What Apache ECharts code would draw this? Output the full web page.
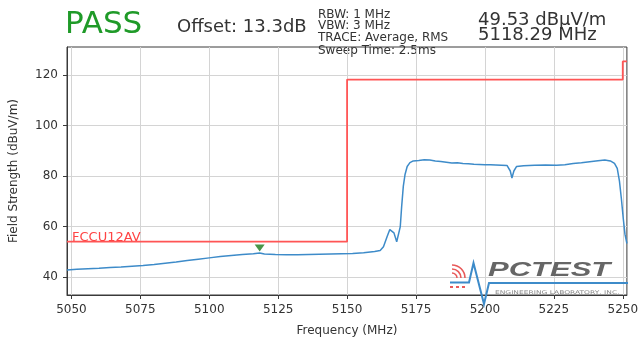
<!DOCTYPE html>
<html>
<head>
<meta charset="utf-8">
<script src="https://cdn.jsdelivr.net/npm/echarts@6/dist/echarts.min.js"></script>
<style>html,body{margin:0;padding:0;background:#fff;}#c{width:641px;height:342px;}</style>
</head>
<body>
<div id="c"></div>
<script>
// ---- data ----
const xTicks = [5050, 5075, 5100, 5125, 5150, 5175, 5200, 5225, 5250];
const yTicks = [40, 60, 80, 100, 120];
const traceFreq = [5048.4,5052,5056,5060,5064,5068,5072,5076,5080,5084,5088,5092,5096,5100,5104,5108,5112,5116,5118.29,5120,5124,5128,5132,5136,5140,5144,5148,5152,5156,5160,5162,5163.2,5164.5,5165.5,5166.2,5167,5168,5168.6,5169.3,5169.8,5170.4,5171,5171.8,5172.8,5174,5176,5178,5180,5182,5184,5186,5188,5190,5192,5194,5196,5198,5200,5202,5204,5206,5208,5209.2,5209.8,5210.5,5211.5,5214,5218,5222,5226,5229,5232,5235,5238,5241,5243.5,5245.5,5247,5248,5248.8,5249.5,5250.2,5250.8,5251.5];
const traceLevel = [42.8,43.1,43.3,43.5,43.8,44.0,44.3,44.6,45.0,45.5,46.0,46.6,47.1,47.6,48.1,48.5,48.9,49.2,49.53,49.1,48.9,48.8,48.8,48.9,49.0,49.1,49.2,49.3,49.6,50.1,50.5,52.0,56.0,58.8,59.3,57.5,54.0,53.3,60.0,68.0,76.0,80.5,83.8,85.3,86.0,86.2,86.5,86.4,86.0,85.8,85.5,85.2,85.3,85.0,84.9,84.7,84.6,84.5,84.5,84.4,84.3,84.2,82.0,79.2,82.0,83.8,84.1,84.3,84.4,84.3,84.5,85.0,85.3,85.7,86.1,86.4,86.0,85.0,83.0,78.0,71.0,63.0,57.0,53.3];
const limitFreq = [5048.4, 5150, 5150, 5250, 5250, 5251.5];
const limitLevel = [54, 54, 118.2, 118.2, 125.4, 125.4];
const markerFreq = [5118.29];
const markerLevel = [49.53];
const limitName = 'FCCU12AV';

const chart = echarts.init(document.getElementById('c'), null, {renderer: 'canvas'});
const axisCol = '#3a3a3a';
const txtCol = '#333';
const font = 'DejaVu Sans';
const option = {
  animation: false,
  backgroundColor: '#fff',
  grid: {left: 63, top: 47, width: 567, height: 254, show: true, borderColor: axisCol, borderWidth: 1, containLabel: false},
  xAxis: {
    type: 'value', min: 5048.4, max: 5251.5,
    name: 'Frequency (MHz)', nameLocation: 'middle', nameGap: 30,
    nameTextStyle: {color: txtCol, fontSize: 12, fontFamily: font},
    axisLine: {show: true, lineStyle: {color: axisCol}},
    axisTick: {show: true, length: 4, lineStyle: {color: axisCol}, customValues: xTicks},
    axisLabel: {color: txtCol, fontSize: 12, fontFamily: font, margin: 9, customValues: xTicks, formatter: v => String(v)},
    splitLine: {show: true, lineStyle: {color: '#d4d4d4', width: 1}}
  },
  yAxis: {
    type: 'value', min: 32.9, max: 131.1,
    name: 'Field Strength (dBuV/m)', nameLocation: 'middle', nameGap: 47,
    nameTextStyle: {color: txtCol, fontSize: 12, fontFamily: font},
    axisLine: {show: true, lineStyle: {color: axisCol}},
    axisTick: {show: true, length: 4, lineStyle: {color: axisCol}, customValues: yTicks},
    axisLabel: {color: txtCol, fontSize: 12, fontFamily: font, margin: 9, customValues: yTicks, formatter: v => String(v)},
    splitLine: {show: true, lineStyle: {color: '#d4d4d4', width: 1}}
  },
  series: [
    {type: 'line', name: 'limit', data: limitFreq.map((f, i) => [f, limitLevel[i]]), showSymbol: false,
     lineStyle: {color: '#ff5555', width: 1.8}, z: 3},
    {type: 'line', name: 'trace', data: traceFreq.map((f, i) => [f, traceLevel[i]]), showSymbol: false,
     lineStyle: {color: '#3d8bc9', width: 1.5}, z: 4},
    {type: 'scatter', name: 'marker', data: markerFreq.map((f, i) => [f, markerLevel[i]]),
     symbol: 'triangle', symbolRotate: 180, symbolSize: [10, 7], symbolOffset: [0, -5],
     itemStyle: {color: '#1a7a1a'}, z: 6}
  ],
  graphic: [
    {type: 'text', x: 65, y: 25, style: {text: 'PASS', font: '31px "DejaVu Sans"', fill: '#1f9a28', verticalAlign: 'middle'}},
    {type: 'text', x: 177, y: 27, style: {text: 'Offset: 13.3dB', font: '18px "DejaVu Sans"', fill: txtCol, verticalAlign: 'middle'}},
    {type: 'text', x: 318, y: 14.5, style: {text: 'RBW: 1 MHz', font: '12px "DejaVu Sans"', fill: txtCol, verticalAlign: 'middle'}},
    {type: 'text', x: 318, y: 25.5, style: {text: 'VBW: 3 MHz', font: '12px "DejaVu Sans"', fill: txtCol, verticalAlign: 'middle'}},
    {type: 'text', x: 318, y: 37.5, style: {text: 'TRACE: Average, RMS', font: '12px "DejaVu Sans"', fill: txtCol, verticalAlign: 'middle'}},
    {type: 'text', x: 318, y: 51, style: {text: 'Sweep Time: 2.5ms', font: '12px "DejaVu Sans"', fill: txtCol, verticalAlign: 'middle'}},
    {type: 'text', x: 478, y: 20, style: {text: '49.53 dBµV/m', font: '18px "DejaVu Sans"', fill: txtCol, verticalAlign: 'middle'}},
    {type: 'text', x: 478, y: 35, style: {text: '5118.29 MHz', font: '18px "DejaVu Sans"', fill: txtCol, verticalAlign: 'middle'}},
    {type: 'text', x: 72, y: 238, z: 10, style: {text: limitName, font: '13px "DejaVu Sans"', fill: '#ff4444', verticalAlign: 'middle'}},
    // watermark logo
    {type: 'group', z: 100, children: [
      {type: 'arc', z: 100, shape: {cx: 452, cy: 278, r: 5, startAngle: -Math.PI / 2, endAngle: 0}, style: {stroke: '#e85a5a', lineWidth: 1.6, fill: null}},
      {type: 'arc', z: 100, shape: {cx: 452, cy: 278, r: 9, startAngle: -Math.PI / 2, endAngle: 0}, style: {stroke: '#e85a5a', lineWidth: 1.6, fill: null}},
      {type: 'arc', z: 100, shape: {cx: 452, cy: 278, r: 13, startAngle: -Math.PI / 2, endAngle: 0}, style: {stroke: '#e85a5a', lineWidth: 1.6, fill: null}},
      {type: 'rect', z: 100, shape: {x: 450, y: 286, width: 3, height: 2}, style: {fill: '#e85a5a'}},
      {type: 'rect', z: 100, shape: {x: 456, y: 286, width: 3, height: 2}, style: {fill: '#e85a5a'}},
      {type: 'rect', z: 100, shape: {x: 462, y: 286, width: 3, height: 2}, style: {fill: '#e85a5a'}},
      {type: 'polyline', z: 100, shape: {points: [[450, 282.5], [469, 282.5], [473.5, 263], [484, 304], [489, 283], [628, 283]]}, style: {stroke: '#3d8bc9', lineWidth: 2, fill: null}},
      {type: 'text', z: 100, x: 488, y: 270, scaleX: 1.55, originX: 0, style: {text: 'PCTEST', font: 'italic bold 20px "Liberation Sans"', fill: '#666', verticalAlign: 'middle'}},
      {type: 'text', z: 100, x: 495, y: 293, scaleX: 1.5, originX: 0, style: {text: 'ENGINEERING LABORATORY, INC.', font: '5px "DejaVu Sans"', fill: '#888', verticalAlign: 'middle'}}
    ]}
  ]
};
chart.setOption(option);
</script>
</body>
</html>
